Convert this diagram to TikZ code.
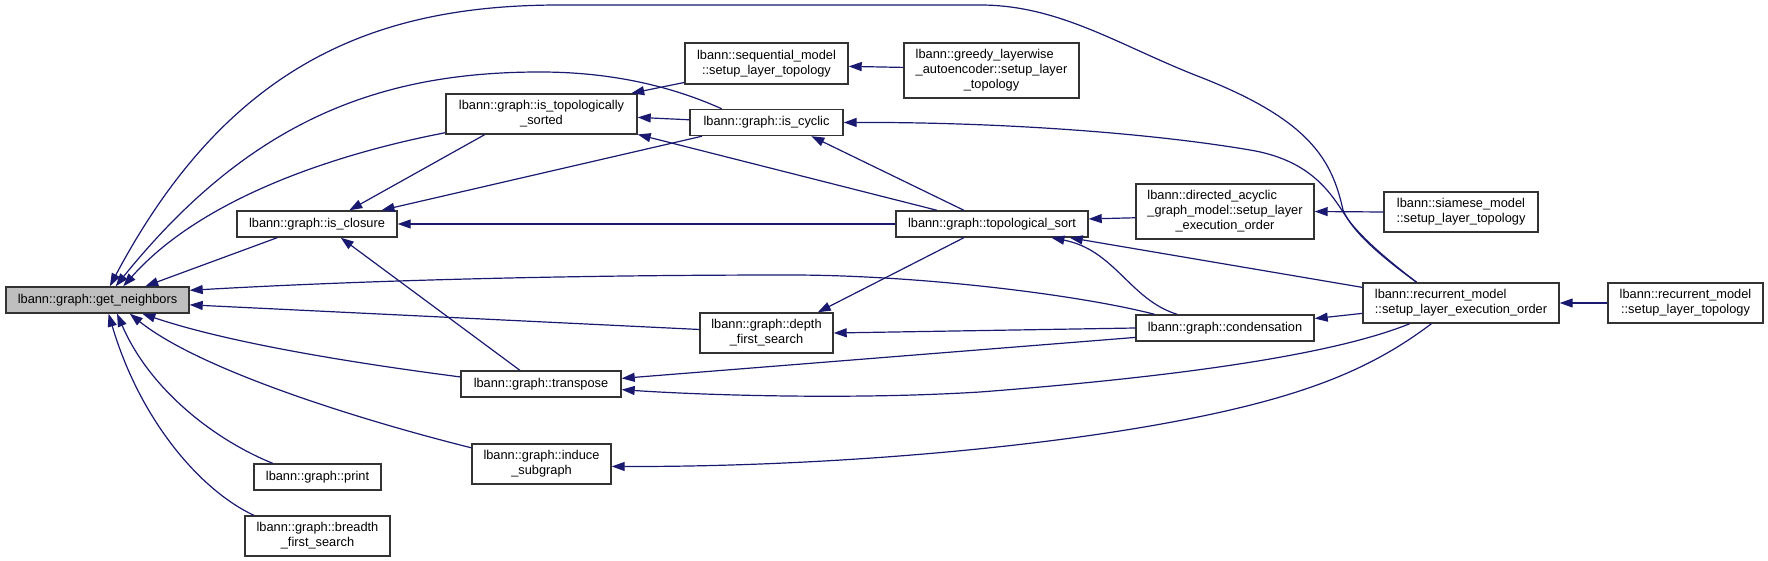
\documentclass[tikz,border=0pt]{standalone}
\usepackage{fontspec}
\setmainfont{Liberation Sans}
\usepackage{calc}
\usepackage{tikz}
\usetikzlibrary{arrows.meta}

\definecolor{edgeblue}{HTML}{191970}
\definecolor{boxline}{HTML}{333333}
\definecolor{gnfill}{HTML}{BFBFBF}
\newcommand{\lefttext}[2]{\makebox[\widthof{#2}][l]{#1}}

\begin{document}
\begin{tikzpicture}[
			x=1pt, y=-1pt,
			every node/.style={
					draw=boxline,
					fill=white,
					line width=1.4pt,
					align=center,
					inner sep=0pt,
					minimum height=26pt,
					font=\fontsize{12.8}{15}\selectfont
				},
			> ={Triangle[length=13pt,width=9pt]},
			call/.style={->, draw=edgeblue, line width=1.2pt}
		]

		\useasboundingbox (0,0) rectangle (1768,561);

		\node[minimum width=183pt, fill=gnfill] (gn) at (97.5,300)
		{lbann::graph::get\_neighbors};

		\node[minimum width=160pt] (closure) at (317,224)
		{lbann::graph::is\_closure};

		\node[minimum width=191pt, minimum height=40pt] (topo) at (541.5,114)
		{lbann::graph::is\_topologically\\\_sorted};

		\node[minimum width=163pt, minimum height=41pt] (seq) at (766.5,63.5)
		{lbann::sequential\_model\\::setup\_layer\_topology};

		\node[minimum width=175pt, minimum height=55pt] (greedy) at (991.5,70.5)
		{\lefttext{lbann::greedy\_layerwise}{\_autoencoder::setup\_layer}\\\_autoencoder::setup\_layer\\\_topology};

		\node[minimum width=153pt] (cyclic) at (766.5,122.5)
		{lbann::graph::is\_cyclic};

		\node[minimum width=192pt] (tsort) at (992,224)
		{lbann::graph::topological\_sort};

		\node[minimum width=178pt, minimum height=55pt] (dag) at (1225,211.5)
		{\lefttext{lbann::directed\_acyclic}{\_graph\_model::setup\_layer}\\\_graph\_model::setup\_layer\\\_execution\_order};

		\node[minimum width=154pt, minimum height=40pt] (siamese) at (1461,212)
		{lbann::siamese\_model\\::setup\_layer\_topology};

		\node[minimum width=196pt, minimum height=40pt] (rexec) at (1461,303)
		{\lefttext{lbann::recurrent\_model}{::setup\_layer\_execution\_order}\\::setup\_layer\_execution\_order};

		\node[minimum width=155pt, minimum height=40pt] (rtopo) at (1685.5,303)
		{lbann::recurrent\_model\\::setup\_layer\_topology};

		\node[minimum width=178pt] (cond) at (1225,328)
		{lbann::graph::condensation};

		\node[minimum width=133pt, minimum height=40pt] (dfs) at (766.5,333)
		{lbann::graph::depth\\\_first\_search};

		\node[minimum width=160pt] (transpose) at (541,384)
		{lbann::graph::transpose};

		\node[minimum width=139pt, minimum height=40pt] (induce) at (541.5,464)
		{lbann::graph::induce\\\_subgraph};

		\node[minimum width=127pt] (print) at (317.5,477)
		{lbann::graph::print};

		\node[minimum width=145pt, minimum height=40pt] (bfs) at (317.5,536)
		{lbann::graph::breadth\\\_first\_search};

		% callers of get_neighbors
		\draw[call] (rexec.155) .. controls (1383,258) and (1352,232) .. (1343,210)
		.. controls (1332,160) and (1310,120) .. (1200,77)
		.. controls (1120,46) and (1060,5) .. (980,5) -- (560,5)
		.. controls (380,5) and (230,60) .. (gn.48);
		\draw[call] (cyclic.163) .. controls (680,90) and (620,72) .. (540,72)
		.. controls (380,72) and (250,120) .. (gn.37);
		\draw[call] (topo.191) .. controls (330,155) and (200,200) .. (gn.28);
		\draw[call] (closure.199) -- (gn.16);
		\draw[call] (cond.169) .. controls (1080,295) and (920,275) .. (790,275)
		.. controls (500,275) and (300,284) .. (gn.6);
		\draw[call] (dfs.177) -- (gn.-3);
		\draw[call] (transpose.175) .. controls (330,360) and (220,340) .. (gn.-17);
		\draw[call] (induce.167) .. controls (360,420) and (200,370) .. (gn.-23);
		\draw[call] (print.163) .. controls (215,440) and (150,390) .. (gn.-35);
		\draw[call] (bfs.162) .. controls (200,490) and (140,420) .. (gn.-51);

		% the rest
		\draw[call] (topo.-160) -- (closure.23);
		\draw[call] (cyclic.-168) -- (closure.12);
		\draw[call] (tsort.west) -- (closure.east);
		\draw[call] (transpose.147) -- (closure.-30);
		\draw[call] (seq.-167) -- (topo.13);
		\draw[call] (greedy.178) -- (seq.-2);
		\draw[call] (cyclic.178) -- (topo.-2);
		\draw[call] (tsort.166) -- (topo.-12);
		\draw[call] (tsort.154) -- (cyclic.-17);
		\draw[call] (rexec.155) .. controls (1385,258) and (1358,235) .. (1345,215)
		.. controls (1330,192) and (1310,160) .. (1250,150)
		.. controls (1150,133) and (1000,122) .. (cyclic.east);
		\draw[call] (dag.184) -- (tsort.3);
		\draw[call] (siamese.west) -- (dag.east);
		\draw[call] (rtopo.west) -- (rexec.east);
		\draw[call] (rexec.186) -- (cond.6);
		\draw[call] (rexec.171) -- (tsort.-10);
		\draw[call] (cond.164) .. controls (1130,300) and (1115,250) .. (tsort.-13);
		\draw[call] (tsort.206) -- (dfs.22);
		\draw[call] (cond.west) -- (dfs.east);
		\draw[call] (cond.186) -- (transpose.4);
		\draw[call] (rexec.202) .. controls (1340,352) and (1200,375) .. (980,392)
		.. controls (850,400) and (700,395) .. (transpose.-4);
		\draw[call] (rexec.-145) .. controls (1370,370) and (1300,400) .. (1150,426)
		.. controls (1000,452) and (800,467) .. (induce.-2);

	\end{tikzpicture}
\end{document}
